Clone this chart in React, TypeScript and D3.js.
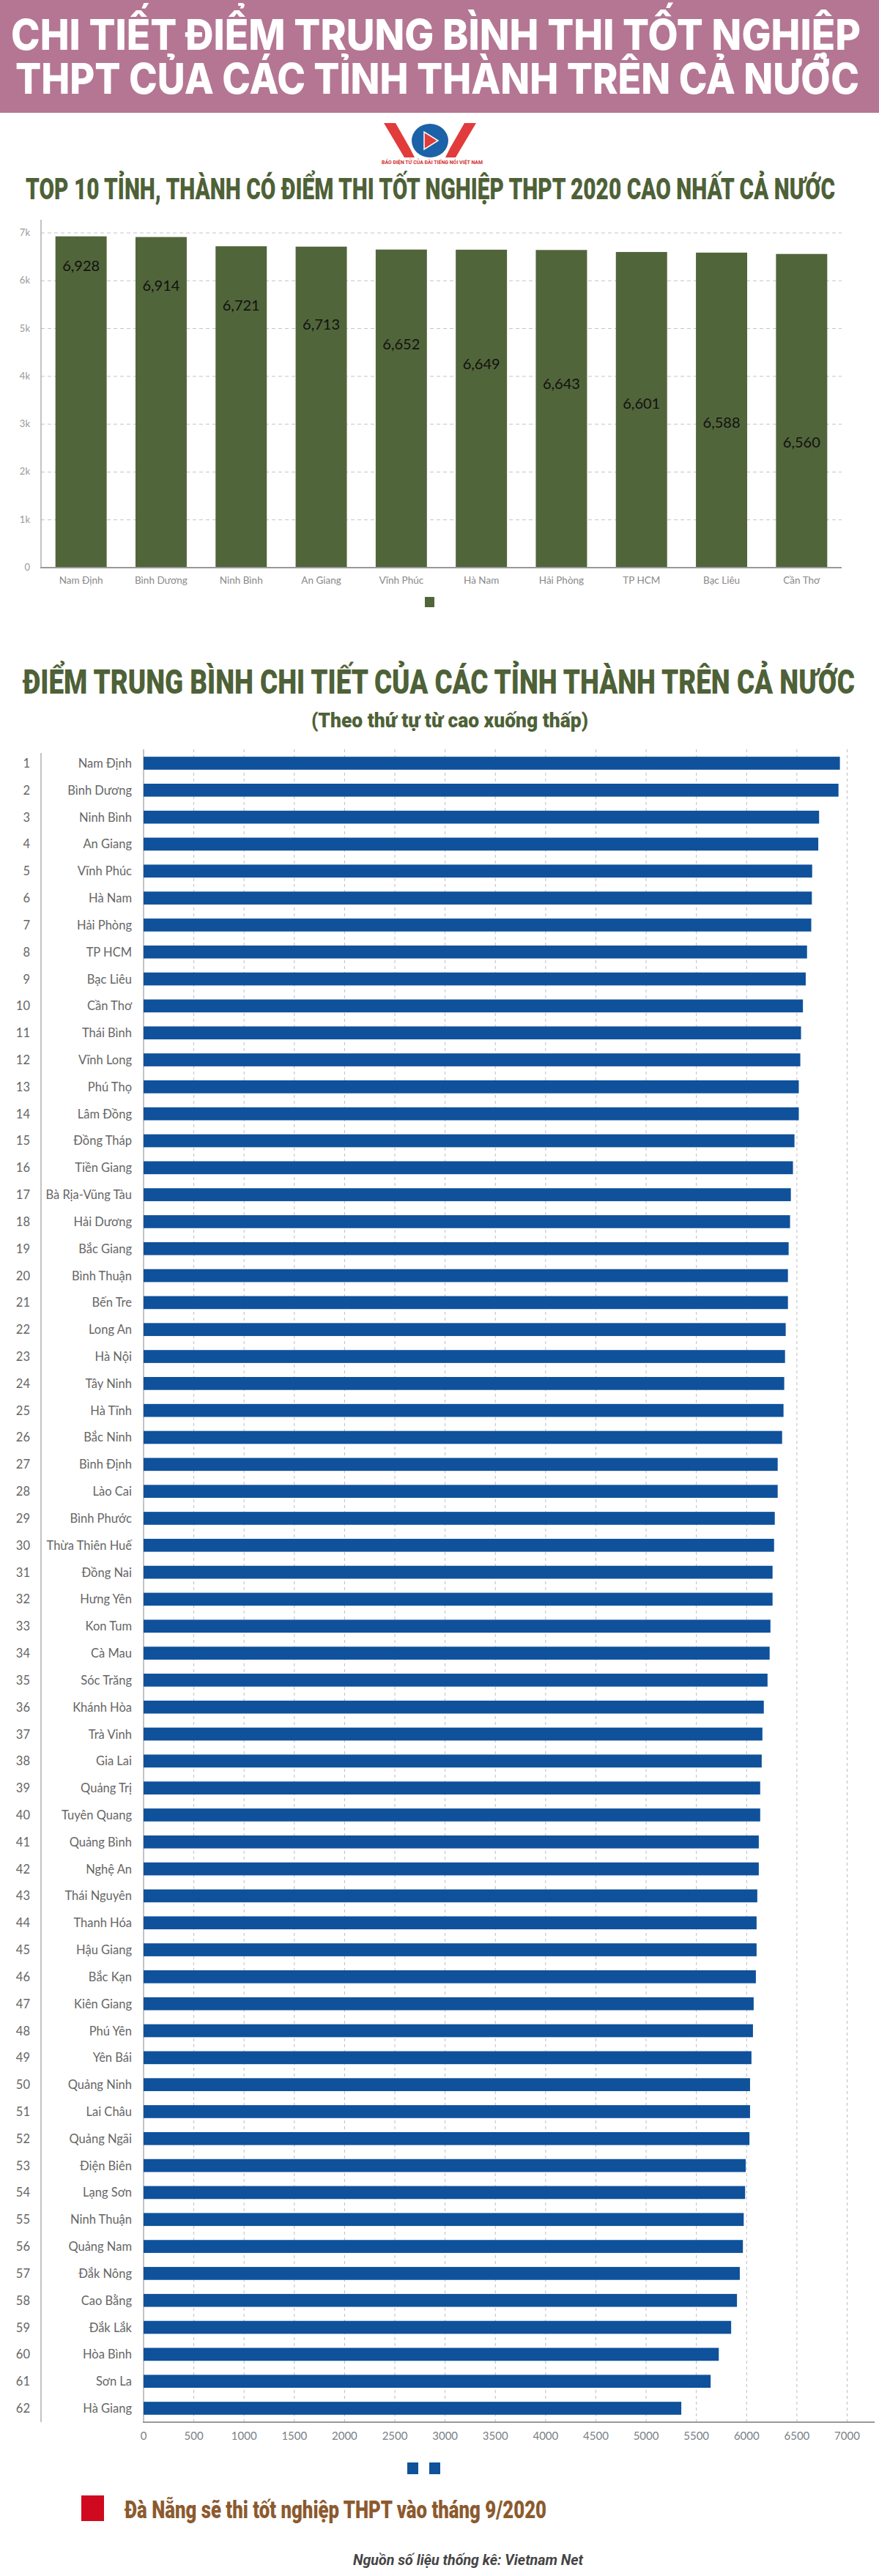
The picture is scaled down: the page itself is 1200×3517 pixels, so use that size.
import React from "react";
import * as d3 from "d3";

const top10Names = ["Nam Định", "Bình Dương", "Ninh Bình", "An Giang", "Vĩnh Phúc", "Hà Nam", "Hải Phòng", "TP HCM", "Bạc Liêu", "Cần Thơ"];
const top10Values = [6928, 6914, 6721, 6713, 6652, 6649, 6643, 6601, 6588, 6560];
const topTickValues = [0, 1000, 2000, 3000, 4000, 5000, 6000, 7000];

const provinces = [
  "Nam Định", "Bình Dương", "Ninh Bình", "An Giang", "Vĩnh Phúc", "Hà Nam", "Hải Phòng", "TP HCM", "Bạc Liêu", "Cần Thơ",
  "Thái Bình", "Vĩnh Long", "Phú Thọ", "Lâm Đồng", "Đồng Tháp", "Tiền Giang", "Bà Rịa-Vũng Tàu", "Hải Dương", "Bắc Giang", "Bình Thuận",
  "Bến Tre", "Long An", "Hà Nội", "Tây Ninh", "Hà Tĩnh", "Bắc Ninh", "Bình Định", "Lào Cai", "Bình Phước", "Thừa Thiên Huế",
  "Đồng Nai", "Hưng Yên", "Kon Tum", "Cà Mau", "Sóc Trăng", "Khánh Hòa", "Trà Vinh", "Gia Lai", "Quảng Trị", "Tuyên Quang",
  "Quảng Bình", "Nghệ An", "Thái Nguyên", "Thanh Hóa", "Hậu Giang", "Bắc Kạn", "Kiên Giang", "Phú Yên", "Yên Bái", "Quảng Ninh",
  "Lai Châu", "Quảng Ngãi", "Điện Biên", "Lạng Sơn", "Ninh Thuận", "Quảng Nam", "Đắk Nông", "Cao Bằng", "Đắk Lắk", "Hòa Bình",
  "Sơn La", "Hà Giang"
];
const scores = [
  6928, 6914, 6721, 6713, 6652, 6649, 6643, 6601, 6588, 6560,
  6541, 6534, 6519, 6519, 6476, 6461, 6440, 6432, 6418, 6411,
  6411, 6389, 6382, 6374, 6367, 6353, 6309, 6309, 6280, 6273,
  6258, 6258, 6237, 6229, 6208, 6171, 6157, 6150, 6135, 6135,
  6121, 6121, 6106, 6099, 6099, 6092, 6070, 6063, 6048, 6034,
  6034, 6028, 5991, 5985, 5971, 5963, 5932, 5904, 5846, 5723,
  5642, 5350
];
const bottomTickValues = [0, 500, 1000, 1500, 2000, 2500, 3000, 3500, 4000, 4500, 5000, 5500, 6000, 6500, 7000];

const headerLines = ["CHI TIẾT ĐIỂM TRUNG BÌNH THI TỐT NGHIỆP", "THPT CỦA CÁC TỈNH THÀNH TRÊN CẢ NƯỚC"];
const topTitle = "TOP 10 TỈNH, THÀNH CÓ ĐIỂM THI TỐT NGHIỆP THPT 2020 CAO NHẤT CẢ NƯỚC";
const mainTitle = "ĐIỂM TRUNG BÌNH CHI TIẾT CỦA CÁC TỈNH THÀNH TRÊN CẢ NƯỚC";
const subTitle = "(Theo thứ tự từ cao xuống thấp)";
const noteText = "Đà Nẵng sẽ thi tốt nghiệp THPT vào tháng 9/2020";
const sourceText = "Nguồn số liệu thống kê: Vietnam Net";
const logoCaption = "BÁO ĐIỆN TỬ CỦA ĐÀI TIẾNG NÓI VIỆT NAM";

const W = 1200;
const H = 3517;
const GREEN = "#51653a";
const BLUE = "#0f519b";
const LATO = "Lato, 'Noto Sans', sans-serif";
const HEAVY = "Roboto, 'Noto Sans', sans-serif";

export default function App() {
  // top chart scales
  const xTop = d3.scaleBand<string>().domain(top10Names).range([56, 1149]).paddingInner(0.36).paddingOuter(0.18);
  const yTop = d3.scaleLinear().domain([0, 7000]).range([775, 318]);
  const fmtK = (v: number) => (v === 0 ? "0" : d3.format("~s")(v));
  const fmtComma = d3.format(",");

  // bottom chart scales
  const ranks = provinces.map((_, i) => String(i + 1));
  const yBot = d3.scaleBand<string>().domain(ranks).range([1023.6, 3306.4]).paddingInner(0.52).paddingOuter(0.26);
  const xBot = d3.scaleLinear().domain([0, 7000]).range([196, 1156.5]);

  return (
    <div style={{ position: "absolute", left: 0, top: 0, width: W, height: H, background: "#fff" }}>
      <svg width={W} height={H} viewBox={`0 0 ${W} ${H}`} style={{ display: "block" }}>
        <rect x={0} y={0} width={W} height={H} fill="#fff" />
        {/* Header band */}
        <rect x={0} y={0} width={W} height={154} fill="#b47693" />
        <text x={595} y={68} textAnchor="middle" fill="#fff" fontFamily="Inter, 'Open Sans', sans-serif" fontWeight={800} fontSize={58} textLength={1160} lengthAdjust="spacingAndGlyphs">{headerLines[0]}</text>
        <text x={597} y={128} textAnchor="middle" fill="#fff" fontFamily="Inter, 'Open Sans', sans-serif" fontWeight={800} fontSize={58} textLength={1152} lengthAdjust="spacingAndGlyphs">{headerLines[1]}</text>

        {/* VOV logo */}
        <g>
          <polygon points="524,168 540,168 560,203 566,215 552,215" fill="#e23b3b" />
          <ellipse cx={587} cy={192} rx={25} ry={23} fill="#1c62a8" />
          <polygon points="579,180 579,204 598,192" fill="#e23b3b" stroke="#fff" strokeWidth={1.5} />
          <polygon points="650,168 634,168 614,203 608,215 622,215" fill="#e23b3b" />
          <text x={590} y={224} textAnchor="middle" fill="#d13030" fontFamily={HEAVY} fontWeight={700} fontSize={6.5} textLength={138} lengthAdjust="spacingAndGlyphs">{logoCaption}</text>
        </g>

        {/* Top chart title */}
        <text x={35} y={272} fill="#4e6137" fontFamily={HEAVY} fontWeight={900} fontSize={41} textLength={1105} lengthAdjust="spacingAndGlyphs">{topTitle}</text>

        {/* Top chart grid */}
        {topTickValues.map((t) => (
          <g key={"gt" + t}>
            {t > 0 && (
              <line x1={56} x2={1149} y1={yTop(t)} y2={yTop(t)} stroke="#c4c4c4" strokeWidth={1} strokeDasharray="5,4" />
            )}
            <text x={41} y={yTop(t) + 4} textAnchor="end" fill="#9a9a9a" fontFamily={LATO} fontSize={13}>{fmtK(t)}</text>
          </g>
        ))}
        <line x1={56} x2={56} y1={300} y2={775} stroke="#888" strokeWidth={1} />
        {top10Names.map((n, i) => (
          <rect key={"tb" + n} x={xTop(n)!} y={yTop(top10Values[i])} width={xTop.bandwidth()} height={yTop(0) - yTop(top10Values[i])} fill={GREEN} />
        ))}
        {top10Names.map((n, i) => (
          <text key={"tv" + n} x={xTop(n)! + xTop.bandwidth() / 2} y={yTop(7000) + 52 + i * 26.8} textAnchor="middle" fill="#111" fontFamily={LATO} fontSize={20}>{fmtComma(top10Values[i])}</text>
        ))}
        <line x1={55} x2={1149} y1={yTop(0)} y2={yTop(0)} stroke="#999" strokeWidth={2} />
        {top10Names.map((n) => (
          <text key={"tl" + n} x={xTop(n)! + xTop.bandwidth() / 2} y={797} textAnchor="middle" fill="#8a8a8a" fontFamily={LATO} fontSize={13.5}>{n}</text>
        ))}
        <rect x={580} y={815} width={13} height={14} fill={GREEN} />

        {/* Main title */}
        <text x={31} y={947} fill="#4e6137" fontFamily={HEAVY} fontWeight={900} fontSize={46} textLength={1136} lengthAdjust="spacingAndGlyphs">{mainTitle}</text>
        <text x={425} y={993} fill="#4e6137" fontFamily={HEAVY} fontWeight={900} fontSize={28} textLength={378} lengthAdjust="spacingAndGlyphs">{subTitle}</text>

        {/* Bottom chart grid */}
        {bottomTickValues.map((t) => (
          <g key={"bg" + t}>
            {t > 0 && (
              <line x1={xBot(t)} x2={xBot(t)} y1={1023} y2={3307} stroke="#bdbdbd" strokeWidth={1} strokeDasharray="4,4" />
            )}
            <text x={xBot(t)} y={3331} textAnchor="middle" fill="#7a7f86" fontFamily={LATO} fontSize={15}>{t}</text>
          </g>
        ))}
        <line x1={xBot(0)} x2={xBot(0)} y1={1023} y2={3307} stroke="#888" strokeWidth={1} />
        <line x1={56} x2={56} y1={1028} y2={3307} stroke="#888" strokeWidth={1} />
        {provinces.map((p, i) => {
          const r = ranks[i];
          const y0 = yBot(r)!;
          const cy = y0 + yBot.bandwidth() / 2;
          return (
            <g key={"row" + r}>
              <rect x={xBot(0)} y={y0} width={xBot(scores[i]) - xBot(0)} height={yBot.bandwidth()} fill={BLUE} />
              <text x={41} y={cy + 6} textAnchor="end" fill="#666" fontFamily={LATO} fontSize={16.5}>{r}</text>
              <text x={180} y={cy + 6} textAnchor="end" fill="#666" fontFamily={LATO} fontSize={16.5}>{p}</text>
            </g>
          );
        })}
        <line x1={195} x2={1194} y1={3307} y2={3307} stroke="#999" strokeWidth={2} />
        <rect x={556} y={3362} width={15} height={16} fill={BLUE} />
        <rect x={586} y={3362} width={15} height={16} fill={BLUE} />

        {/* Note */}
        <rect x={111} y={3407} width={31} height={35} fill="#cf0a1f" />
        <text x={170} y={3438} fill="#8c5a2e" fontFamily={HEAVY} fontWeight={900} fontSize={34} textLength={576} lengthAdjust="spacingAndGlyphs">{noteText}</text>
        <text x={482} y={3502} fill="#444" fontFamily={HEAVY} fontWeight={700} fontStyle="italic" fontSize={21} textLength={314} lengthAdjust="spacingAndGlyphs">{sourceText}</text>
      </svg>
    </div>
  );
}
